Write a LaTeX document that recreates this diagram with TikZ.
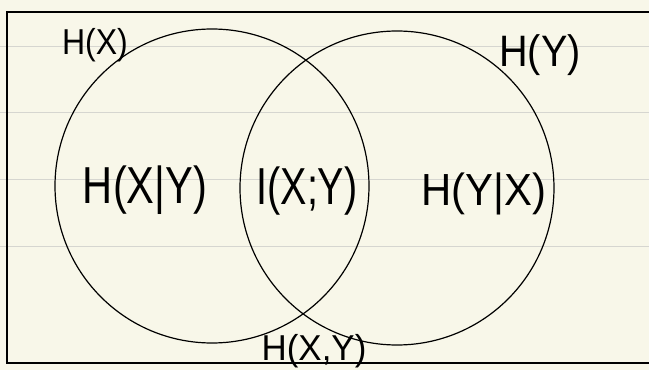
\documentclass[tikz,border=0pt]{standalone}
\usepackage{fontspec}
\usepackage{graphicx}
\setmainfont{Liberation Sans}
\definecolor{paper}{RGB}{248,247,233}
\definecolor{rule}{RGB}{214,214,208}
\newcommand\narrow[2]{\scalebox{#1}[1]{#2}}
\tikzset{
  setcircle/.style={circle, draw, line width=1.2pt, inner sep=0pt, minimum size=314pt},
  hand/.style={inner sep=0pt, font=\fontsize{#1}{#1}\selectfont}
}
\begin{document}
\begin{tikzpicture}[x=1pt, y=-1pt]
\useasboundingbox (0,0) rectangle (649,370);
\clip (0,0) rectangle (649,370);
\fill[paper] (0,0) rectangle (649,370);
% ruled lines of the page
\foreach \ry in {46,112,179,246}
  \draw[rule, line width=1pt] (0,\ry) -- (649,\ry);
% frame
\draw[line width=2.2pt] (660,12) -- (7,12) -- (7,363) -- (660,363);
% the two sets
\node[setcircle] (hx) at (212,186) {};
\node[setcircle] (hy) at (397,188) {};
% labels
\node[hand=36] (lhx) at (95,45) {\narrow{0.89}{H(X)}};
\node[hand=44] (lhy) at (540,55) {\narrow{0.9}{H(Y)}};
\node[hand=52] (hxy) at (145,190) {\narrow{0.8}{H(X|Y)}};
\node[hand=52] (ixy) at (307,191) {\narrow{0.76}{I(X;Y)}};
\node[hand=45] (hyx) at (484,194) {\narrow{0.93}{H(Y|X)}};
\node[hand=36] (joint) at (314,351) {\narrow{0.97}{H(X,Y)}};
\end{tikzpicture}
\end{document}
